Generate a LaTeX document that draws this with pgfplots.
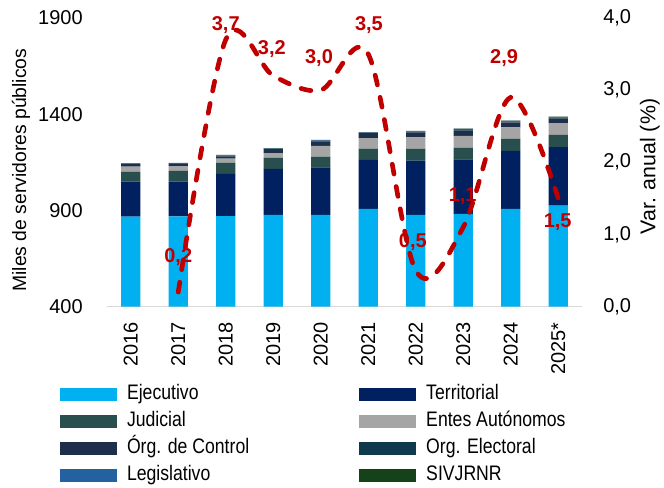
\documentclass[border=0pt]{standalone}
\usepackage{fontspec}
\setmainfont{Liberation Sans}
\newfontfamily\legfont[FakeStretch=0.84]{Liberation Sans}
\usepackage{pgfplots}
\pgfplotsset{compat=1.18}
\usepackage{pgfplotstable}
\definecolor{cEje}{HTML}{00B0F0}
\definecolor{cTer}{HTML}{002060}
\definecolor{cJud}{HTML}{284F4D}
\definecolor{cEnt}{HTML}{A5A5A5}
\definecolor{cCon}{HTML}{1D2F4A}
\definecolor{cEle}{HTML}{0F3A4E}
\definecolor{cLeg}{HTML}{2461A0}
\definecolor{cSiv}{HTML}{16421A}
\definecolor{cLine}{HTML}{C00000}
\definecolor{cAxis}{HTML}{D9D9D9}

\pgfplotstableread{
x E T J EA C OE L S
0 867 182 52 26 13 3 2 0
1 868 181 56 25 13 2 2 0
2 870 219 59 21 10 4 3 2
3 876 239 59 23 17 4 3 2
4 876 248 55 56 22 4 3 2
5 907 256 58 54 26 3 2 1
6 876 282 61 61 24 4 3 2
7 881 284 61 61 27 5 4 2
8 907 302 62 61 26 4 3 1
9 924 305 63 61 24 5 3 2
}\bars

\pgfplotstableread{
x y lab dx dy
1 0.2 0,2 0 26.6
2 3.7 3,7 0 11.2
3 3.2 3,2 -1.1 20
4 3.0 3,0 -1.3 23.8
5 3.5 3,5 0.5 21.9
6 0.5 0,5 -2.2 21
7 1.1 1,1 -0.4 23.2
8 2.9 2,9 -5 29.2
9 1.5 1,5 -0.4 -17.7
}\lineT

\begin{document}
\begin{tikzpicture}
\begin{axis}[
  at={(80.25pt,135.375pt)}, anchor=south west,
  scale only axis, width=356.25pt, height=216.375pt,
  ybar stacked, bar width=14.5pt,
  xmin=-0.5, xmax=9.5, ymin=400, ymax=1900,
  xtick={0,...,9},
  xticklabels={2016,2017,2018,2019,2020,2021,2022,2023,2024,2025*},
  ytick={400,900,1400,1900},
  axis x line*=bottom, axis y line*=left,
  y axis line style={draw=none},
  x axis line style={draw=cAxis, line width=1.2pt},
  major tick length=0pt,
  /pgf/number format/assume math mode=true,
  /pgf/number format/set thousands separator={},
  tick label style={font=\fontsize{15}{18}\selectfont},
  yticklabel style={anchor=east, inner sep=0pt, inner xsep=18pt},
  xticklabel style={rotate=90, anchor=east, inner sep=0pt, inner xsep=11.6pt},
  ylabel={Miles de servidores públicos},
  every axis y label/.style={at={(axis description cs:-0.181,0.473)}, rotate=90, anchor=center, font=\fontsize{14.5}{17}\selectfont},
  legend columns=2,
  legend cell align=left,
  legend style={at={(axis description cs:-0.0989,-0.2686)}, anchor=north west,
    draw=none, fill=none, inner sep=0pt, outer sep=0pt,
    font=\legfont\fontsize{15.75}{18}\selectfont,
    column sep=0pt, row sep=3.75pt,
    nodes={inner xsep=0pt, inner ysep=1pt, text height=11pt, text depth=3.5pt},
    /tikz/every even column/.append style={column sep=82.5pt},
    /tikz/every odd column/.append style={column sep=7.5pt}},
  every axis plot post/.append style={legend image code/.code={\fill[##1,draw=none] (0pt,-4.875pt) rectangle (42.75pt,4.875pt);}},
]
\addplot[fill=cEje, draw=none] table[x=x,y=E] {\bars};
\addplot[fill=cTer, draw=none] table[x=x,y=T] {\bars};
\addplot[fill=cJud, draw=none] table[x=x,y=J] {\bars};
\addplot[fill=cEnt, draw=none] table[x=x,y=EA] {\bars};
\addplot[fill=cCon, draw=none] table[x=x,y=C] {\bars};
\addplot[fill=cEle, draw=none] table[x=x,y=OE] {\bars};
\addplot[fill=cLeg, draw=none] table[x=x,y=L] {\bars};
\addplot[fill=cSiv, draw=none] table[x=x,y=S] {\bars};
\legend{Ejecutivo, Territorial, Judicial, Entes Autónomos, Órg. de Control, Org. Electoral, Legislativo, SIVJRNR}
\end{axis}

\begin{axis}[
  at={(80.25pt,135.375pt)}, anchor=south west,
  scale only axis, width=356.25pt, height=216.375pt,
  xmin=-0.5, xmax=9.5, ymin=0, ymax=4,
  axis x line=none, axis y line*=right,
  y axis line style={draw=none},
  major tick length=0pt,
  ytick={0,1,2,3,4},
  /pgf/number format/assume math mode=true,
  yticklabel style={/pgf/number format/fixed, /pgf/number format/fixed zerofill, /pgf/number format/precision=1, /pgf/number format/use comma,
    font=\fontsize{15}{18}\selectfont, anchor=west, inner sep=0pt, inner xsep=15.75pt},
  ylabel={Var. anual (\%)},
  every axis y label/.style={at={(axis description cs:1.143,0.485)}, rotate=90, anchor=center, font=\fontsize{16}{19}\selectfont},
]
\addplot[draw=none, mark=none, nodes near coords, nodes near coords align={center},
  point meta=explicit symbolic,
  visualization depends on={\thisrow{dx} \as \dx},
  visualization depends on={\thisrow{dy} \as \dy},
  every node near coord/.append style={anchor=center, xshift=\dx pt, yshift=\dy pt,
    font=\bfseries\fontsize{15}{18}\selectfont, text=cLine, inner sep=0pt}]
  table[x=x, y=y, meta=lab] {\lineT};
\addplot[color=cLine, line width=3.5pt, smooth, tension=0.55, line cap=round,
  dash pattern=on 7.5pt off 9.5pt, mark=none] table[x=x,y=y] {\lineT};
\end{axis}
\pgfresetboundingbox
\path[use as bounding box] (0pt,0pt) rectangle (498pt,365.25pt);
\end{tikzpicture}
\end{document}
